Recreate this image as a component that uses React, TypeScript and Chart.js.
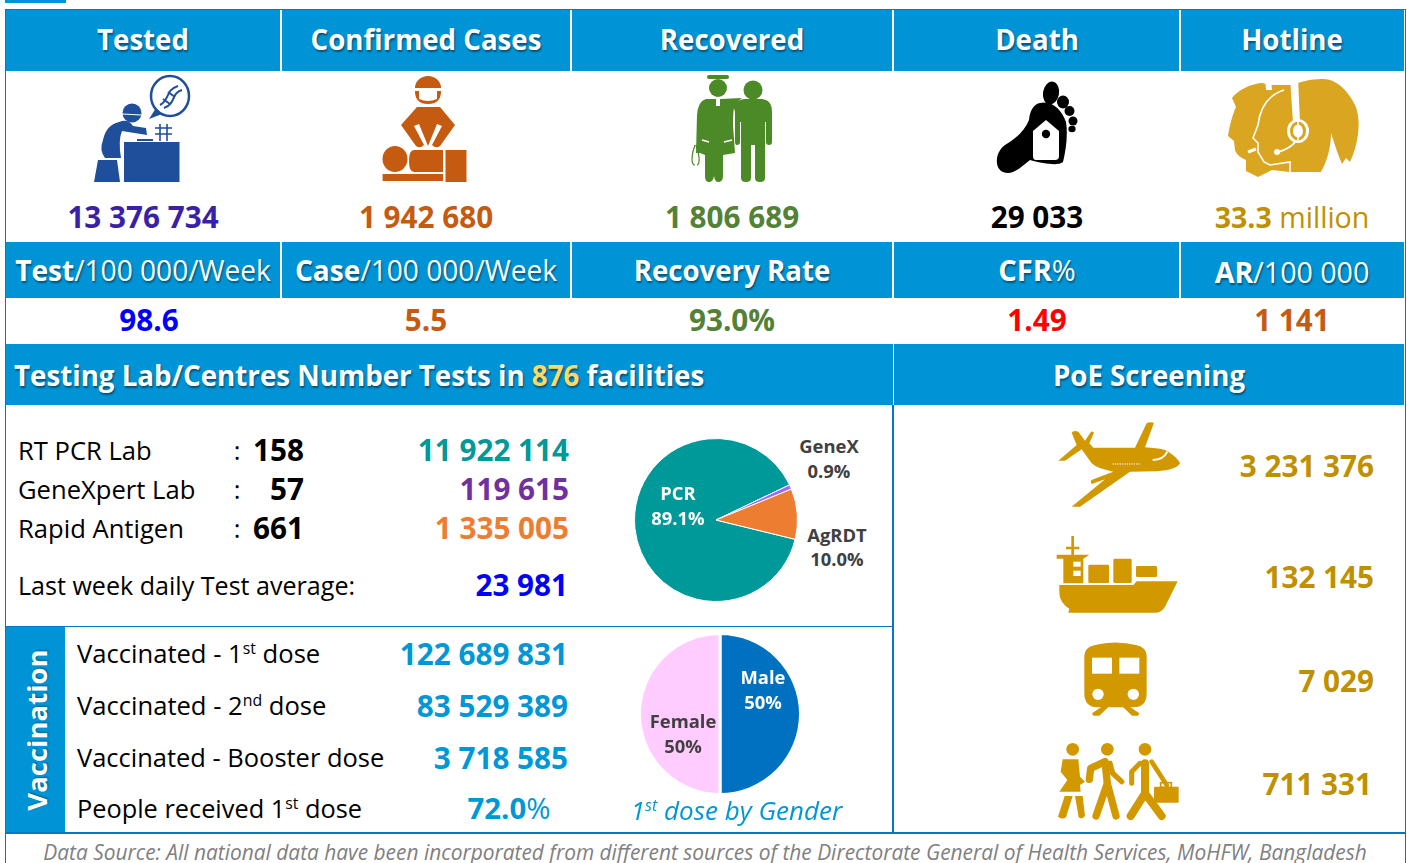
import React, { useEffect, useRef } from "react";
import { Chart, registerables } from "chart.js";

Chart.register(...registerables);

const testLabels = ["PCR", "GeneX", "AgRDT"];
const testShares = [89.1, 0.9, 10.0];
const testColors = ["#009999", "#A366FF", "#ED7D31"];
const genderLabels = ["Male", "Female"];
const genderShares = [50, 50];
const genderColors = ["#0070C0", "#FFCCFF"];

const headerTitles = ["Tested", "Confirmed Cases", "Recovered", "Death", "Hotline"];
const headerValues = ["13 376 734", "1 942 680", "1 806 689", "29 033"];
const rateValues = ["98.6", "5.5", "93.0%", "1.49", "1 141"];
const labRows = ["RT PCR Lab", "GeneXpert Lab", "Rapid Antigen"];
const labCounts = ["158", "57", "661"];
const labTests = ["11 922 114", "119 615", "1 335 005"];
const poeValues = ["3 231 376", "132 145", "7 029", "711 331"];
const vaccineValues = ["122 689 831", "83 529 389", "3 718 585"];

const BLUE = "#0094D6";
const LINE = "#0078C8";
const FONT = '"Open Sans", sans-serif';
const NUM = 29.7;
const HEAD = 28.5;
const LAB = 25.6;
const PIE = 18.4;

type TP = { x: number; y: number; a?: "l" | "c" | "r"; s?: number; w?: number; c?: string; sx?: number; i?: boolean; sh?: boolean; lh?: number; children: React.ReactNode };
function T({ x, y, a = "c", s = 26, w = 400, c = "#000", sx = 1, i, sh, lh = 1.2, children }: TP) {
  const tx = a === "l" ? "0" : a === "c" ? "-50%" : "-100%";
  const ox = a === "l" ? "0%" : a === "c" ? "50%" : "100%";
  return (
    <div style={{ position: "absolute", left: x, top: y, whiteSpace: "pre", fontFamily: FONT, fontSize: s, fontWeight: w, color: c, fontStyle: i ? "italic" : "normal", lineHeight: lh, transform: `translate(${tx},-50%) scaleX(${sx})`, transformOrigin: `${ox} 50%`, textShadow: sh ? "1px 2px 2px rgba(0,0,0,.45)" : undefined }}>
      {children}
    </div>
  );
}
function Box({ x, y, w, h, c }: { x: number; y: number; w: number; h: number; c: string }) {
  return <div style={{ position: "absolute", left: x, top: y, width: w, height: h, background: c }} />;
}
const Sup = ({ children }: { children: React.ReactNode }) => <sup style={{ fontSize: "0.62em", lineHeight: 0, verticalAlign: "baseline", position: "relative", top: "-0.55em" }}>{children}</sup>;

function Pie({ x, y, size, labels, data, colors, rotation, border }: { x: number; y: number; size: number; labels: string[]; data: number[]; colors: string[]; rotation: number; border: number }) {
  const ref = useRef<HTMLCanvasElement>(null);
  useEffect(() => {
    const chart = new Chart(ref.current!, {
      type: "pie",
      data: { labels, datasets: [{ data, backgroundColor: colors, borderColor: "#fff", borderWidth: border }] },
      options: { animation: false, responsive: false, rotation, layout: { padding: 0 }, plugins: { legend: { display: false }, tooltip: { enabled: false } } },
    });
    return () => chart.destroy();
  }, []);
  return <canvas ref={ref} width={size} height={size} style={{ position: "absolute", left: x, top: y, width: size, height: size }} />;
}

function Icons() {
  const blue = "#1F4E9A", org = "#C55A11", grn = "#4C8A27", gold = "#DAA520", poe = "#D29800";
  return (
    <svg width={1407} height={863} style={{ position: "absolute", left: 0, top: 0 }}>
      {/* tested */}
      <g fill={blue}>
        <rect x={124} y={142} width={55.5} height={40} />
        <path d="M98 160H117L120 182H94Z" />
        <circle cx={132} cy={113} r={9.5} />
        <path d="M119 122Q128 118 133 126L146 128L147 135L122 131Q118 140 121 158L105 158Q99 150 103 140Q106 125 119 122Z" />
        <rect x={137} y={139} width={16} height={2} />
        <ellipse cx={170} cy={96} rx={19} ry={20} fill="#fff" stroke={blue} strokeWidth={2.5} />
        <path d="M156 108L149 119L162 114Z" />
      </g>
      <path d="M122 114L141 115" stroke="#fff" strokeWidth={1.2} />
      <path d="M160 105C170 100 165 90 178 86M164 108C176 104 171 93 182 90M163 99L170 104M168 92L175 97" stroke={blue} strokeWidth={2} fill="none" />
      <path d="M160 124V141M167 124V141M155 128H172M155 134H172" stroke={blue} strokeWidth={1.6} fill="none" />
      {/* cases */}
      <g fill={org}>
        <path d="M415 88A13 12 0 0 1 441 88Z" />
        <path d="M415 91H419V99Q428 103 437 99V91H441Q441 104 428 104Q415 104 415 91Z" />
        <path d="M417 107H440L455 125L440 146Q436 149 432 145L442 126L437 124L428 146L419 124L414 126L424 145Q420 149 416 146L401 125Z" />
        <ellipse cx={395} cy={159} rx={12.5} ry={13} />
        <path d="M414 150H443V172H414Q409 172 409 161Q409 150 414 150Z" />
        <rect x={445.5} y={150} width={21} height={32} />
        <rect x={382.6} y={174} width={60.5} height={7} />
      </g>
      {/* recovered */}
      <g fill={grn}>
        <circle cx={718} cy={88} r={9} />
        <rect x={707} y={75} width={22} height={4} rx={2} />
        <circle cx={753} cy={90} r={9.5} />
        <path d="M744 99H762Q772 100 772 112V142Q772 145 769 145Q766 145 766 142V122H765V178Q765 182 760 182Q755 182 755 178V145H751V178Q751 182 746 182Q741 182 741 178V122H740V142Q740 145 737 145Q735 145 735 142V112L733 105Q738 100 744 99Z" />
        <path d="M706 99H716V106H720V99L742 98L735 104Q733 108 733 125L735 153L723 155V176Q723 182 718 182Q715 182 714 176Q713 182 709 182Q705 182 705 176V155L700 153L696 153L697 115Q698 101 706 99Z" />
      </g>
      <path d="M695 145C691 155 691 165 695 165M696 145C700 155 700 165 697 165" stroke={grn} strokeWidth={1.2} fill="none" />
      <path d="M702 140L709 142M724 142L732 140" stroke="#fff" strokeWidth={1.5} />
      {/* death */}
      <g fill="#000">
        <ellipse cx={1051} cy={93} rx={8} ry={11.5} transform="rotate(10 1051 93)" />
        <ellipse cx={1063} cy={102} rx={6} ry={6.5} />
        <ellipse cx={1069.5} cy={111} rx={5} ry={5} />
        <ellipse cx={1073} cy={121} rx={4.5} ry={4.5} />
        <ellipse cx={1072} cy={129} rx={3.6} ry={3.2} />
        <path d="M1040 103C1052 100 1062 110 1066 122C1068 135 1066 150 1063 162C1058 166 1045 164 1030 160C1020 168 1012 176 1003 172C994 168 995 152 1005 145C1016 139 1025 130 1029 120C1030 110 1034 104 1040 103Z" />
      </g>
      <path d="M1046 120L1059 131V156Q1059 160 1055 160H1036Q1033 160 1033 156V131Z" fill="#fff" />
      <circle cx={1046} cy={134} r={4.2} fill="#000" />
      {/* hotline */}
      <path fill={gold} d="M1262 83C1250 84 1238 90 1232 98L1236 107C1232 116 1230 124 1228 136L1234 141L1235 150C1237 156 1242 158 1246 160L1246 171L1258 177L1272 170L1290 172L1321 172C1328 160 1331 145 1331 133C1335 145 1338 155 1342 164L1346 158L1350 162C1358 145 1362 120 1355 105C1348 90 1335 78 1322 79C1310 79 1300 82 1293 85L1272 85Z" />
      <path d="M1284 90C1268 95 1260 108 1258 125L1253 138L1258 143L1258 152L1264 162L1270 165L1290 162L1290 172" stroke="#fff" strokeWidth={1.6} fill="none" />
      <path d="M1290 78H1298L1300 122H1293Z" fill="#fff" />
      <path d="M1265 79H1271L1272 90H1266Z" fill="#fff" />
      <ellipse cx={1298} cy={131} rx={11} ry={12} fill="#fff" />
      <ellipse cx={1298} cy={131} rx={6.5} ry={8} fill="none" stroke={gold} strokeWidth={3} />
      <path d="M1298 121V127M1298 135V141" stroke="#fff" strokeWidth={1.5} />
      <path d="M1296 141Q1290 149 1278 152" stroke="#fff" strokeWidth={2} fill="none" />
      <circle cx={1277} cy={152} r={3} fill="#fff" />
      <path d="M1248 152L1256 149" stroke="#fff" strokeWidth={3} />
      {/* PoE icons in zoomed crop units */}
      <g transform="translate(1030,410) scale(0.33333)" fill={poe}>
        <path d="M85 152L140 105L125 68Q130 60 145 65L165 92L180 70Q185 60 192 68L178 100L190 113L315 113L350 40Q355 35 372 38L345 112Q400 115 415 125Q445 145 450 160Q440 180 380 184L300 185L150 290L125 290L225 208L185 222Q178 212 190 208L250 185Q200 175 185 160L155 118L105 152Z" />
        <path d="M368 150Q400 150 412 125" stroke="#fff" strokeWidth={6} fill="none" />
        <path d="M248 162H330" stroke="#fff" strokeWidth={3} strokeDasharray="4 3" />
        <path d="M124 378H132V410H148V418H132V434H178L160 446V520H100V446H80V434H124V418H108V410H124Z" />
        <rect x={130} y={455} width={22} height={15} fill="#fff" />
        <rect x={130} y={482} width={22} height={16} fill="#fff" />
        <rect x={175} y={464} width={62} height={55} rx={4} />
        <rect x={250} y={446} width={55} height={73} rx={4} />
        <rect x={318} y={468} width={63} height={33} rx={4} />
        <path d="M88 525H310L320 514H443L405 590Q395 608 375 608H115L118 596Q90 580 88 550Z" />
        <path d="M163 738Q163 712 195 705Q256 690 318 705Q350 712 350 738V850Q350 892 310 892H203Q163 892 163 850Z" />
        <rect x={186} y={743} width={60} height={48} fill="#fff" />
        <rect x={268} y={743} width={60} height={48} fill="#fff" />
        <circle cx={204} cy={853} r={17} fill="#fff" />
        <circle cx={310} cy={853} r={17} fill="#fff" />
        <path d="M186 910L215 890H236L208 917H190ZM328 910L299 890H278L306 917H324Z" />
        <circle cx={128} cy={1018} r={19} />
        <circle cx={232} cy={1018} r={19} />
        <circle cx={345} cy={1018} r={19} />
        <path d="M98 1048H145L150 1100L165 1115L150 1125L152 1145H88L112 1110L92 1085Z" />
        <path d="M104 1158H128L108 1222Q98 1230 84 1220ZM135 1158H158L165 1218Q155 1230 146 1222Z" />
      </g>
      <g transform="translate(1030,410) scale(0.33333)" stroke={poe} fill="none" strokeLinecap="round" strokeLinejoin="round">
        <path d="M178 1108L182 1075L225 1055L232 1120L198 1218" strokeWidth={22} />
        <path d="M232 1120L258 1218" strokeWidth={22} />
        <path d="M240 1060L248 1090L275 1115" strokeWidth={16} />
        <path d="M345 1060L345 1150L302 1218M345 1150L395 1218" strokeWidth={24} />
        <path d="M330 1060L305 1085L305 1120" strokeWidth={15} />
        <path d="M365 1055L410 1125" strokeWidth={14} />
      </g>
      <g transform="translate(1030,410) scale(0.33333)" fill={poe}>
        <rect x={372} y={1130} width={74} height={48} rx={3} />
        <rect x={392} y={1118} width={32} height={14} fill="none" stroke={poe} strokeWidth={5} />
      </g>
    </svg>
  );
}

export default function App() {
  const colX = [143, 426, 732, 1037, 1292];
  const hv = ["#3A1FA8", "#C55A11", "#538135", "#000000"];
  const rv = ["#0000FF", "#C55A11", "#538135", "#FF0000", "#C55A11"];
  const labY = [450, 489, 528];
  const labC = ["#009999", "#7030A0", "#ED7D31"];
  const poeY = [466, 577, 681, 784];
  const vacY = [654, 706, 758, 809];
  const VAL = "#0097D7";
  return (
    <div style={{ position: "absolute", left: 0, top: 0, width: 1407, height: 863, overflow: "hidden", background: "#fff" }}>
      <Box x={5} y={0} w={61} h={3} c={BLUE} />
      <Box x={5} y={9} w={1401} h={1} c={LINE} />
      <Box x={5} y={9} w={1} h={854} c={LINE} />
      <Box x={1404.5} y={9} w={1.5} h={854} c={LINE} />
      <Box x={5} y={832} w={1401} h={2} c={LINE} />
      <Box x={6} y={10} w={1398} h={61} c={BLUE} />
      <Box x={6} y={242} w={1398} h={56} c={BLUE} />
      <Box x={6} y={344} w={1398} h={61} c={BLUE} />
      {[281, 571, 893, 1180].map((x) => (
        <React.Fragment key={x}>
          <Box x={x - 1} y={10} w={2} h={61} c="#fff" />
          <Box x={x - 1} y={242} w={2} h={56} c="#fff" />
        </React.Fragment>
      ))}
      <Box x={892.5} y={344} w={1} h={61} c="#fff" />
      <Box x={892} y={405} w={1.5} h={428} c={LINE} />
      <Box x={5} y={625.5} w={888} h={1.5} c={LINE} />
      <Box x={6} y={627} w={59} h={205} c={BLUE} />

      <Icons />

      {headerTitles.map((t, i) => (
        <T key={t} x={colX[i]} y={39.4} s={HEAD} w={700} c="#fff" sh sx={0.97}>{t}</T>
      ))}
      {headerValues.map((t, i) => (
        <T key={t} x={colX[i]} y={216.6} s={NUM} w={700} c={hv[i]}>{t}</T>
      ))}
      <T x={1292} y={216.6} s={28.6} c="#BF9000"><b>33.3</b> million</T>

      <T x={143} y={270} s={28.4} c="#fff" sh sx={0.99}><b>Test</b>/100 000/Week</T>
      <T x={426} y={270} s={28.4} c="#fff" sh sx={0.99}><b>Case</b>/100 000/Week</T>
      <T x={732} y={270} s={HEAD} w={700} c="#fff" sh sx={0.97}>Recovery Rate</T>
      <T x={1037} y={269.5} s={29} c="#fff" sh><b>CFR</b>%</T>
      <T x={1292} y={271.5} s={28.6} c="#fff" sh><b>AR</b>/100 000</T>
      {rateValues.map((t, i) => (
        <T key={t} x={[149, 426, 732, 1037, 1292][i]} y={319.6} s={NUM} w={700} c={rv[i]}>{t}</T>
      ))}

      <T x={14} y={374.5} a="l" s={HEAD} w={700} c="#fff" sh sx={0.972}>
        Testing Lab/Centres Number Tests in <span style={{ color: "#FFD966" }}>876</span> facilities
      </T>
      <T x={1149} y={374.5} s={HEAD} w={700} c="#fff" sh sx={0.97}>PoE Screening</T>

      {labRows.map((t, i) => (
        <React.Fragment key={t}>
          <T x={18} y={labY[i] + 0.6} a="l" s={LAB}>{t}</T>
          <T x={237} y={labY[i] + 0.6} s={LAB}>:</T>
          <T x={304} y={labY[i]} a="r" s={NUM} w={700}>{labCounts[i]}</T>
          <T x={569} y={labY[i]} a="r" s={NUM} w={700} c={labC[i]}>{labTests[i]}</T>
        </React.Fragment>
      ))}
      <T x={18} y={585.6} a="l" s={LAB} sx={0.98}>Last week daily Test average:</T>
      <T x={568} y={585} a="r" s={NUM} w={700} c="#0000FF">23 981</T>

      <Pie x={634} y={438} size={164} labels={testLabels} data={testShares} colors={testColors} rotation={103.7} border={1} />
      <T x={678} y={492.6} s={PIE} w={700} c="#fff">{testLabels[0]}</T>
      <T x={678} y={517.6} s={PIE} w={700} c="#fff">89.1%</T>
      <T x={829} y={446} s={PIE} w={700} c="#404040">{testLabels[1]}</T>
      <T x={829} y={470.6} s={PIE} w={700} c="#404040">0.9%</T>
      <T x={837} y={534.6} s={PIE} w={700} c="#404040">{testLabels[2]}</T>
      <T x={837} y={558.6} s={PIE} w={700} c="#404040">10.0%</T>

      <div style={{ position: "absolute", left: 36, top: 730, fontFamily: FONT, fontSize: 27.5, fontWeight: 700, color: "#fff", whiteSpace: "pre", transform: "translate(-50%,-50%) rotate(-90deg)", textShadow: "1px 1px 2px rgba(0,0,0,.35)" }}>Vaccination</div>

      <T x={77} y={vacY[0] - 0.4} a="l" s={LAB}>Vaccinated - 1<Sup>st</Sup> dose</T>
      <T x={77} y={vacY[1] - 0.4} a="l" s={LAB}>Vaccinated - 2<Sup>nd</Sup> dose</T>
      <T x={77} y={vacY[2] - 0.4} a="l" s={LAB} sx={0.995}>Vaccinated - Booster dose</T>
      <T x={77} y={vacY[3] - 0.4} a="l" s={LAB} sx={0.99}>People received 1<Sup>st</Sup> dose</T>
      {vaccineValues.map((t, i) => (
        <T key={t} x={568} y={vacY[i]} a="r" s={NUM} w={700} c={VAL}>{t}</T>
      ))}
      <T x={509} y={vacY[3]} s={29.4} c={VAL}><b>72.0</b>%</T>

      <Pie x={638} y={632} size={164} labels={genderLabels} data={genderShares} colors={genderColors} rotation={0} border={3} />
      <T x={763} y={677} s={PIE} w={700} c="#fff">{genderLabels[0]}</T>
      <T x={763} y={702} s={PIE} w={700} c="#fff">50%</T>
      <T x={683} y={721} s={PIE} w={700} c="#404040">{genderLabels[1]}</T>
      <T x={683} y={746} s={PIE} w={700} c="#404040">50%</T>
      <T x={736.5} y={811} s={26} i c="#0097D7">1<Sup>st</Sup> dose by Gender</T>

      <T x={705} y={852} s={20.9} i lh={1} c="#808080">Data Source: All national data have been incorporated from different sources of the Directorate General of Health Services, MoHFW, Bangladesh</T>

      {poeValues.map((t, i) => (
        <T key={t} x={[1374, 1374, 1374, 1372][i]} y={poeY[i]} a="r" s={NUM} w={700} c="#BF9000">{t}</T>
      ))}
    </div>
  );
}
